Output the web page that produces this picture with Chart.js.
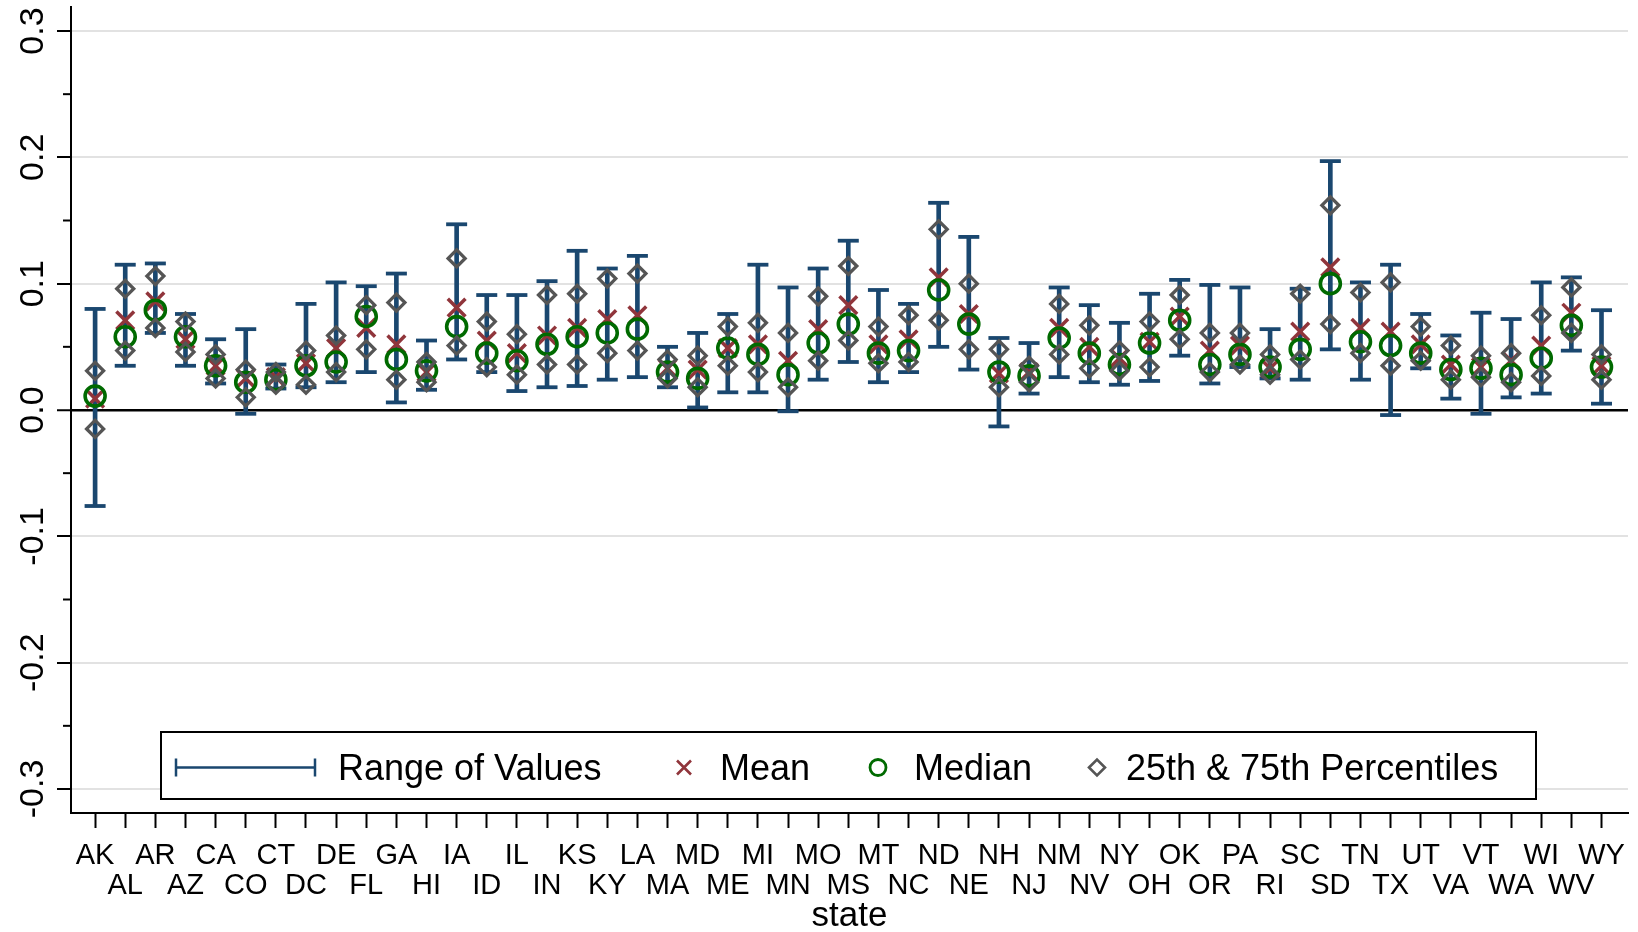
<!DOCTYPE html>
<html><head><meta charset="utf-8">
<script src="https://cdn.jsdelivr.net/npm/chart.js@4.4.0/dist/chart.umd.min.js"></script>
<style>html,body{margin:0;padding:0;background:#fff;overflow:hidden}#wrap{width:1638px;height:932px}</style>
</head><body><div id="wrap"><canvas id="c" width="1638" height="932"></canvas></div>
<script>
const states = ['AK','AL','AR','AZ','CA','CO','CT','DC','DE','FL','GA','HI','IA','ID','IL','IN','KS','KY','LA','MA','MD','ME','MI','MN','MO','MS','MT','NC','ND','NE','NH','NJ','NM','NV','NY','OH','OK','OR','PA','RI','SC','SD','TN','TX','UT','VA','VT','WA','WI','WV','WY'];
const minVals = [-0.076,0.035,0.061,0.035,0.021,-0.003,0.017,0.018,0.022,0.030,0.006,0.016,0.040,0.030,0.015,0.018,0.019,0.024,0.026,0.018,0.002,0.014,0.014,-0.001,0.024,0.038,0.022,0.030,0.050,0.032,-0.013,0.013,0.026,0.022,0.020,0.023,0.043,0.021,0.034,0.025,0.024,0.048,0.024,-0.004,0.033,0.009,-0.003,0.010,0.013,0.047,0.005];
const p25Vals = [-0.015,0.047,0.065,0.046,0.025,0.010,0.020,0.020,0.030,0.048,0.024,0.022,0.051,0.034,0.028,0.036,0.036,0.045,0.047,0.025,0.018,0.035,0.030,0.018,0.039,0.055,0.037,0.038,0.071,0.048,0.018,0.022,0.044,0.033,0.031,0.034,0.056,0.030,0.036,0.028,0.040,0.068,0.045,0.035,0.039,0.024,0.026,0.022,0.027,0.061,0.024];
const medianVals = [0.011,0.058,0.079,0.058,0.035,0.022,0.024,0.035,0.038,0.074,0.040,0.031,0.066,0.045,0.039,0.052,0.058,0.061,0.064,0.030,0.025,0.049,0.044,0.028,0.053,0.068,0.045,0.047,0.095,0.068,0.030,0.027,0.057,0.045,0.036,0.053,0.071,0.036,0.044,0.034,0.048,0.100,0.054,0.051,0.045,0.032,0.033,0.028,0.041,0.067,0.034];
const meanVals = [0.009,0.071,0.086,0.056,0.035,0.025,0.026,0.037,0.049,0.065,0.052,0.030,0.081,0.055,0.045,0.059,0.065,0.072,0.075,0.033,0.032,0.049,0.052,0.039,0.064,0.083,0.052,0.056,0.105,0.076,0.029,0.030,0.065,0.050,0.041,0.054,0.074,0.047,0.051,0.033,0.062,0.113,0.065,0.062,0.052,0.036,0.034,0.039,0.051,0.077,0.035];
const p75Vals = [0.031,0.096,0.106,0.070,0.044,0.032,0.030,0.047,0.059,0.083,0.085,0.038,0.120,0.070,0.060,0.091,0.092,0.104,0.108,0.040,0.043,0.066,0.069,0.061,0.090,0.114,0.066,0.075,0.143,0.100,0.048,0.035,0.084,0.067,0.047,0.070,0.091,0.061,0.061,0.044,0.092,0.162,0.093,0.101,0.066,0.051,0.043,0.045,0.075,0.097,0.044];
const maxVals = [0.080,0.115,0.116,0.076,0.056,0.064,0.036,0.084,0.101,0.098,0.108,0.055,0.147,0.091,0.091,0.102,0.126,0.112,0.122,0.050,0.061,0.076,0.115,0.097,0.112,0.134,0.095,0.084,0.164,0.137,0.057,0.053,0.097,0.083,0.069,0.092,0.103,0.099,0.097,0.064,0.096,0.197,0.101,0.115,0.076,0.059,0.077,0.072,0.101,0.105,0.079];
const yTicks = [-0.3,-0.2,-0.1,0,0.1,0.2,0.3];
const minorTicks = [-0.25,-0.15,-0.05,0.05,0.15,0.25];
const seriesLabels = ['Range of Values','Mean','Median','25th & 75th Percentiles'];

const NAVY='#1a476f', MAROON='#90353b', GREEN='#006a00', GRAY='#555555';
const FONT='"Liberation Sans", Arial, sans-serif';
Chart.defaults.font.family = FONT;

const pts = arr => arr.map((v,i)=>({x:i,y:v}));

const legendPlugin = {
  id:'stataLegend',
  afterDraw(chart){
    const ctx = chart.ctx;
    const ys = chart.scales.y;
    ctx.save();
    ctx.strokeStyle='#000'; ctx.lineWidth=2;
    minorTicks.forEach(v=>{
      const py = ys.getPixelForValue(v);
      ctx.beginPath(); ctx.moveTo(ys.right-8, py); ctx.lineTo(ys.right, py); ctx.stroke();
    });
    const bx=161, by=732, bw=1375, bh=67, cy=by+bh/2;
    ctx.fillStyle='#fff'; ctx.fillRect(bx,by,bw,bh);
    ctx.strokeStyle='#000'; ctx.lineWidth=2; ctx.strokeRect(bx,by,bw,bh);
    const my = cy+2;
    ctx.strokeStyle=NAVY; ctx.lineWidth=2.5;
    ctx.beginPath(); ctx.moveTo(176,my); ctx.lineTo(315,my);
    ctx.moveTo(176,my-9); ctx.lineTo(176,my+9);
    ctx.moveTo(315,my-9); ctx.lineTo(315,my+9); ctx.stroke();
    ctx.strokeStyle=MAROON; ctx.lineWidth=2.6;
    const mx=684, r=7;
    ctx.beginPath(); ctx.moveTo(mx-r,my-r); ctx.lineTo(mx+r,my+r); ctx.moveTo(mx-r,my+r); ctx.lineTo(mx+r,my-r); ctx.stroke();
    ctx.strokeStyle=GREEN; ctx.lineWidth=2.8;
    ctx.beginPath(); ctx.arc(878,my,8,0,Math.PI*2); ctx.stroke();
    ctx.strokeStyle=GRAY; ctx.lineWidth=2.6;
    const dx=1097, d=8;
    ctx.beginPath(); ctx.moveTo(dx-d,my); ctx.lineTo(dx,my-d); ctx.lineTo(dx+d,my); ctx.lineTo(dx,my+d); ctx.closePath(); ctx.stroke();
    ctx.fillStyle='#000'; ctx.font='36px '+FONT; ctx.textBaseline='middle'; ctx.textAlign='left';
    ctx.fillText(seriesLabels[0],338,cy+5);
    ctx.fillText(seriesLabels[1],720,cy+5);
    ctx.fillText(seriesLabels[2],914,cy+5);
    ctx.fillText(seriesLabels[3],1126,cy+5);
    ctx.restore();
  }
};

new Chart(document.getElementById('c'), {
  type:'scatter',
  data:{
    datasets:[
      {type:'bar', label:seriesLabels[0], data: states.map((s,i)=>({x:i,y:[minVals[i],maxVals[i]]})),
        backgroundColor:NAVY, borderWidth:0, barThickness:4, order:4},
      {label:'caps', data: pts(maxVals).concat(pts(minVals)), pointStyle:'line', pointRadius:10.5,
        pointBorderWidth:3.8, borderWidth:3.8, pointBorderColor:NAVY, borderColor:NAVY, showLine:false, order:3},
      {label:seriesLabels[1], data: pts(meanVals), pointStyle:'crossRot', pointRadius:12.5,
        pointBorderWidth:3.5, borderWidth:3.5, pointBorderColor:MAROON, borderColor:MAROON, showLine:false, order:2},
      {label:seriesLabels[2], data: pts(medianVals), pointStyle:'circle', pointRadius:10,
        pointBorderWidth:3.6, borderWidth:3.6, pointBorderColor:GREEN, borderColor:GREEN, pointBackgroundColor:'rgba(0,0,0,0)', backgroundColor:'rgba(0,0,0,0)', showLine:false, order:1},
      {label:seriesLabels[3], data: pts(p25Vals).concat(pts(p75Vals)), pointStyle:'rectRot', pointRadius:8.5,
        pointBorderWidth:3.3, borderWidth:3.3, pointBorderColor:GRAY, borderColor:GRAY, pointBackgroundColor:'rgba(0,0,0,0)', backgroundColor:'rgba(0,0,0,0)', showLine:false, order:0}
    ]
  },
  options:{
    responsive:false, animation:false, devicePixelRatio:1, events:[],
    layout:{autoPadding:false, padding:{left:0,top:7,right:10,bottom:0}},
    plugins:{legend:{display:false}, tooltip:{enabled:false}},
    scales:{
      x:{type:'linear', min:-0.8, max:50.88, offset:false,
        afterBuildTicks: s => { s.ticks = states.map((_,i)=>({value:i})); },
        afterFit: s => { s.height = 119; s.paddingLeft = 0; s.paddingRight = 0; },
        ticks:{autoSkip:false, minRotation:0, maxRotation:0, padding:13, color:'#000',
          font:{size:29, lineHeight:1.04},
          callback:(v)=>{ const i=Math.round(v); return i%2===0 ? states[i] : ['', states[i]]; }},
        grid:{offset:false, drawOnChartArea:false, drawTicks:true, tickLength:15, tickColor:'#000', tickWidth:2, color:'#000'},
        border:{display:true, color:'#000', width:2},
        title:{display:true, text:'state', color:'#000', font:{size:35, lineHeight:1}, padding:{top:0,bottom:-2}}
      },
      y:{type:'linear', min:-0.319, max:0.319,
        afterBuildTicks: s => { s.ticks = yTicks.map(v=>({value:v})); },
        afterFit: s => { s.width = 71; s.paddingTop = 0; s.paddingBottom = 0; },
        ticks:{minRotation:90, maxRotation:90, crossAlign:'center', padding:-6, color:'#000',
          font:{size:34}, callback:(v)=>Number(v).toFixed(1)},
        grid:{drawTicks:true, tickLength:14, tickColor:'#000', tickWidth:2,
          color:(c)=> (c.tick && Math.abs(c.tick.value)<1e-9) ? '#000' : '#e2e2e2',
          lineWidth:(c)=> (c.tick && Math.abs(c.tick.value)<1e-9) ? 2.5 : 2},
        border:{display:true, color:'#000', width:2}
      }
    }
  },
  plugins:[legendPlugin]
});
</script>
</body></html>
